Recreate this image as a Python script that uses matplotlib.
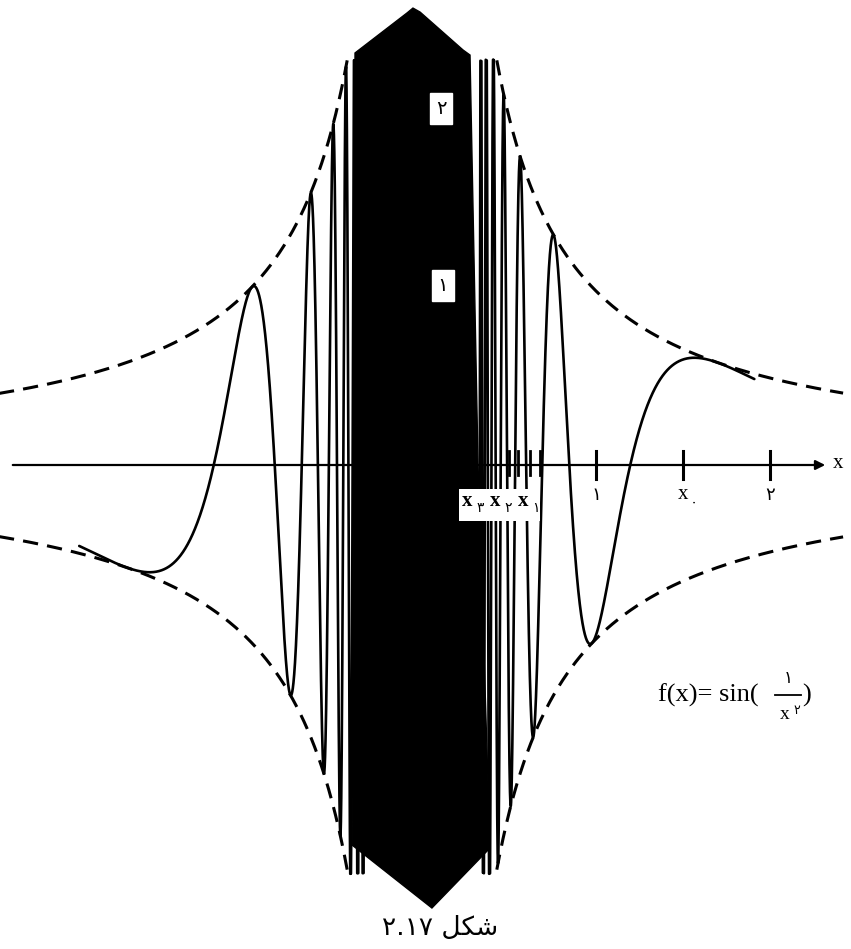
import numpy as np
import matplotlib
matplotlib.use("Agg")
import matplotlib.pyplot as plt
from matplotlib.patches import Polygon, Rectangle

# ---------------- data ----------------
# curve f(x) = (1/x) * sin(c / x^2)   (as drawn in the figure, schematic)
curve_c = 4.5
left_range = [-1.97, -0.33]
right_range = [0.33, 1.91]
curve_ylim = [-2.35, 2.33]   # drawn lines stop near the band's top/bottom

# dashed envelopes  y = +-1/|x|
env_left = [-2.45, -0.43]
env_right = [0.43, 2.42]

# dense (black) band outline
band_x = [-0.385, -0.086, -0.052, -0.011, 0.236, 0.276, 0.322, 0.391, 0.057, -0.402]
band_y = [2.368, 2.598, 2.626, 2.603, 2.385, 2.356, 0.011, -2.201, -2.546, -2.184]

# axis ticks
tick_pos = [1.0, 1.5, 2.0]
tick_labels = ["\u06f1", "x", "\u06f2"]
small_tick_pos = [0.50, 0.55, 0.62, 0.68]

# boxed labels inside the band
band_label_text = ["\u06f2", "\u06f1"]
band_label_x = [0.11, 0.12]
band_label_y = [2.05, 1.03]

# subscript labels x3 x2 x1
sub_digits = ["\u06f3", "\u06f2", "\u06f1"]
sub_x = [0.26, 0.42, 0.58]

# ---------------- figure ----------------
W, H, DPI = 851, 949, 100
fig = plt.figure(figsize=(W / DPI, H / DPI), dpi=DPI)
ax = fig.add_axes([0, 0, 1, 1])
ux, ox, oy = 174.0, 422.0, 465.0
ax.set_xlim(-ox / ux, (W - ox) / ux)
ax.set_ylim(-(H - oy) / ux, oy / ux)
ax.axis("off")

serif = ["Liberation Serif", "DejaVu Sans"]
sans = ["DejaVu Sans"]

# curve
for a, b in (left_range, right_range):
    xs = np.linspace(a, b, 60000)
    ys = np.sin(curve_c / xs**2) / xs
    ys = np.where((ys > curve_ylim[1]) | (ys < curve_ylim[0]), np.nan, ys)
    ax.plot(xs, ys, color="black", lw=1.9, solid_capstyle="round", zorder=3)

# envelopes
for a, b in (env_left, env_right):
    xs = np.linspace(a, b, 400)
    for s in (1, -1):
        ax.plot(xs, s / np.abs(xs), color="black", lw=2.2,
                dashes=(5, 3), zorder=3)

# band
ax.add_patch(Polygon(np.column_stack([band_x, band_y]), closed=True,
                     facecolor="black", edgecolor="black", lw=1, zorder=4))

# x-axis with arrow
ax.annotate("", xy=((828 - ox) / ux, 0), xytext=((10 - ox) / ux, 0),
            arrowprops=dict(arrowstyle="-|>", lw=1.6, color="black",
                            mutation_scale=14), zorder=2)
ax.text((838 - ox) / ux, 0.01, "x", fontsize=15, family=serif,
        ha="center", va="center")

for p in tick_pos:
    ax.plot([p, p], [-0.08, 0.08], color="black", lw=2.2, zorder=3)
for p in small_tick_pos:
    ax.plot([p, p], [-0.06, 0.08], color="black", lw=2.0, zorder=3)

ax.text(1.0, -0.17, tick_labels[0], fontsize=13, family=sans, ha="center", va="center")
ax.text(1.5, -0.17, tick_labels[1], fontsize=15, family=serif, ha="center", va="center")
ax.text(1.56, -0.215, "\u06f0", fontsize=11, family=sans, ha="center", va="center")
ax.text(2.0, -0.17, tick_labels[2], fontsize=13, family=sans, ha="center", va="center")

# boxed labels in band
for t, bx, by in zip(band_label_text, band_label_x, band_label_y):
    ax.text(bx, by, t, fontsize=14, family=sans, ha="center", va="center",
            zorder=6, bbox=dict(boxstyle="square,pad=0.3", fc="white", ec="white"))

# white box with x3 x2 x1
ax.add_patch(Rectangle((0.21, -0.32), 0.47, 0.18, facecolor="white",
                       edgecolor="none", zorder=5))
for d, sx in zip(sub_digits, sub_x):
    ax.text(sx, -0.205, "x", fontsize=15, family=serif, fontweight="bold",
            ha="center", va="center", zorder=6)
    ax.text(sx + 0.075, -0.25, d, fontsize=10, family=sans,
            ha="center", va="center", zorder=6)

# formula f(x) = sin(1/x^2)
fy = (465 - 695) / ux
ax.text((658 - ox) / ux, fy, "f(x)= sin(", fontsize=19, family=serif,
        ha="left", va="center")
fxc = (788 - ox) / ux
ax.plot([(775 - ox) / ux, (801 - ox) / ux], [fy, fy], color="black", lw=1.3)
ax.text(fxc, fy + 0.1, "\u06f1", fontsize=12, family=sans, ha="center", va="center")
ax.text(fxc - 0.02, fy - 0.11, "x", fontsize=14, family=serif, ha="center", va="center")
ax.text(fxc + 0.05, fy - 0.09, "\u06f2", fontsize=9, family=sans, ha="center", va="center")
ax.text((802 - ox) / ux, fy, ")", fontsize=19, family=serif, ha="left", va="center")

# caption  (visual order of "شکل ۲.۱۷")
ax.text((440 - ox) / ux, (465 - 928) / ux,
        "\u06f2.\u06f1\u06f7 \ufede\ufb91\ufeb7", fontsize=19, family=sans,
        ha="center", va="center")

fig.savefig("out.png", dpi=DPI, facecolor="white")
